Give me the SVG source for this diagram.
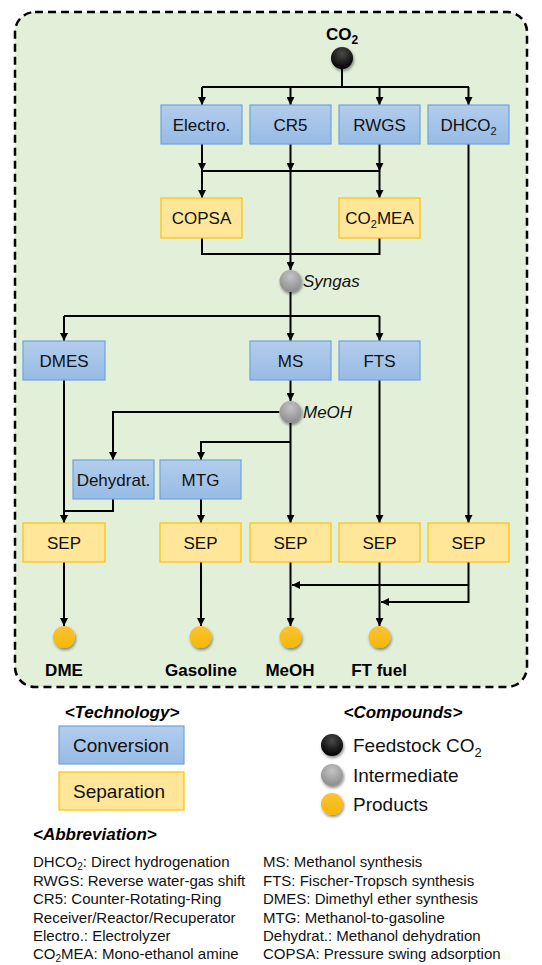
<svg xmlns="http://www.w3.org/2000/svg" width="542" height="965" viewBox="0 0 542 965">
  <style>
    .conv { fill: url(#gBlue); stroke: #6fa3dc; stroke-width: 1.2; }
    .sep { fill: #ffe699; stroke: #ffc000; stroke-width: 1.2; }
    .lbl { font-family: "Liberation Sans", Arial, sans-serif; font-size: 17px; fill: #111; text-anchor: middle; }
    .prod { font-family: "Liberation Sans", Arial, sans-serif; font-size: 17px; font-weight: bold; fill: #000; text-anchor: middle; }
    .ital { font-family: "Liberation Sans", Arial, sans-serif; font-size: 17px; font-style: italic; fill: #111; }
    .head { font-family: "Liberation Sans", Arial, sans-serif; font-size: 17px; font-style: italic; font-weight: bold; fill: #000; }
    .abbr { font-family: "Liberation Sans", Arial, sans-serif; font-size: 15px; fill: #111; }
    .leg { font-family: "Liberation Sans", Arial, sans-serif; font-size: 19px; fill: #111; }
    .wire { fill: none; stroke: #000; stroke-width: 2; }
    .arr { fill: none; stroke: #000; stroke-width: 2; marker-end: url(#ah); }
  </style>
  <defs>
    <linearGradient id="gBlue" x1="0" y1="0" x2="0" y2="1">
      <stop offset="0" stop-color="#b3cdec"/>
      <stop offset="1" stop-color="#97bbe5"/>
    </linearGradient>
    <radialGradient id="gBlack" cx="0.5" cy="0.3" r="0.7">
      <stop offset="0" stop-color="#4a4a4a"/>
      <stop offset="1" stop-color="#000"/>
    </radialGradient>
    <radialGradient id="gGrey" cx="0.5" cy="0.3" r="0.7">
      <stop offset="0" stop-color="#c4c4c4"/>
      <stop offset="1" stop-color="#8c8c8c"/>
    </radialGradient>
    <linearGradient id="gYellow" x1="0" y1="0" x2="0" y2="1">
      <stop offset="0" stop-color="#fbc23c"/>
      <stop offset="1" stop-color="#f5b800"/>
    </linearGradient>
    <filter id="shadow" x="-50%" y="-50%" width="200%" height="200%">
      <feDropShadow dx="1" dy="2" stdDeviation="1.6" flood-color="#000" flood-opacity="0.45"/>
    </filter>
    <marker id="ah" viewBox="0 0 10 10" refX="10" refY="5" markerWidth="4.5" markerHeight="4" orient="auto" markerUnits="strokeWidth">
      <path d="M0,0 L10,5 L0,10 z" fill="#000"/>
    </marker>
  </defs>

  <!-- process boundary -->
  <rect x="15" y="12" width="512" height="675" rx="20" ry="20" fill="#e2efd9" stroke="#000" stroke-width="2.5" stroke-dasharray="8,5"/>

  <!-- connectors -->
  <g id="connectors">
    <path class="wire" d="M342,69 V87 M202,87 H469"/>
    <path class="arr" d="M202,87 V105"/>
    <path class="arr" d="M290.5,87 V105"/>
    <path class="arr" d="M379.5,87 V105"/>
    <path class="arr" d="M468.5,87 V105"/>
    <path class="arr" d="M202,144 V171"/>
    <path class="arr" d="M379.5,144 V171"/>
    <path class="arr" d="M290.5,144 V171"/>
    <path class="wire" d="M202,171 H379.5"/>
    <path class="arr" d="M202,171 V198"/>
    <path class="arr" d="M379.5,171 V198"/>
    <path class="arr" d="M290.5,171 V270"/>
    <path class="wire" d="M202,238 V254 H379.5 V238"/>
    <path class="arr" d="M290.5,292 V341"/>
    <path class="wire" d="M64,316 H379.5"/>
    <path class="arr" d="M64,316 V341"/>
    <path class="arr" d="M379.5,316 V341"/>
    <path class="arr" d="M290.5,380 V401"/>
    <path class="arr" d="M279.5,412 H113 V460"/>
    <path class="arr" d="M290.5,423 V523"/>
    <path class="arr" d="M290.5,442 H201 V460"/>
    <path class="arr" d="M64,380 V523"/>
    <path class="wire" d="M113,499 V511 H64"/>
    <path class="arr" d="M201,499 V523"/>
    <path class="arr" d="M379.5,380 V523"/>
    <path class="arr" d="M468.5,144 V523"/>
    <path class="arr" d="M64,562 V626"/>
    <path class="arr" d="M201,562 V626"/>
    <path class="arr" d="M290.5,562 V626"/>
    <path class="arr" d="M379.5,562 V626"/>
    <path class="arr" d="M468.5,562 V602 H381"/>
    <path class="arr" d="M468.5,585 H292"/>
  </g>

  <!-- feedstock -->
  <g id="co2">
    <text class="prod" x="342" y="40" font-size="19">CO<tspan font-size="12" dy="4">2</tspan></text>
    <circle cx="342" cy="58" r="11" fill="url(#gBlack)" filter="url(#shadow)"/>
  </g>

  <!-- conversion technologies, first stage -->
  <g id="electro"><rect class="conv" x="161" y="105" width="81" height="39"/><text class="lbl" x="201.5" y="130.5">Electro.</text></g>
  <g id="cr5"><rect class="conv" x="250" y="105" width="81" height="39"/><text class="lbl" x="290.5" y="130.5">CR5</text></g>
  <g id="rwgs"><rect class="conv" x="339" y="105" width="81" height="39"/><text class="lbl" x="379.5" y="130.5">RWGS</text></g>
  <g id="dhco2"><rect class="conv" x="428" y="105" width="81" height="39"/><text class="lbl" x="468.5" y="130.5">DHCO<tspan font-size="11" dy="4">2</tspan></text></g>

  <!-- separation of syngas -->
  <g id="copsa"><rect class="sep" x="161" y="198" width="81" height="40"/><text class="lbl" x="201.5" y="224">COPSA</text></g>
  <g id="co2mea"><rect class="sep" x="339" y="198" width="81" height="40"/><text class="lbl" x="379.5" y="224">CO<tspan font-size="11" dy="4">2</tspan><tspan dy="-4">MEA</tspan></text></g>

  <!-- syngas intermediate -->
  <g id="syngas">
    <circle cx="290.5" cy="281" r="11" fill="url(#gGrey)" filter="url(#shadow)"/>
    <text class="ital" x="303" y="287">Syngas</text>
  </g>

  <!-- second stage -->
  <g id="dmes"><rect class="conv" x="23" y="341" width="82" height="39"/><text class="lbl" x="64" y="367">DMES</text></g>
  <g id="ms"><rect class="conv" x="250" y="341" width="81" height="39"/><text class="lbl" x="290.5" y="367">MS</text></g>
  <g id="fts"><rect class="conv" x="339" y="341" width="81" height="39"/><text class="lbl" x="379.5" y="367">FTS</text></g>

  <!-- methanol intermediate -->
  <g id="meoh-int">
    <circle cx="290.5" cy="412" r="11" fill="url(#gGrey)" filter="url(#shadow)"/>
    <text class="ital" x="303" y="418">MeOH</text>
  </g>

  <g id="dehydrat"><rect class="conv" x="73" y="460" width="81" height="39"/><text class="lbl" x="113.5" y="486">Dehydrat.</text></g>
  <g id="mtg"><rect class="conv" x="160" y="460" width="81" height="39"/><text class="lbl" x="200.5" y="486">MTG</text></g>

  <!-- product separation -->
  <g id="sep1"><rect class="sep" x="23" y="523" width="82" height="39"/><text class="lbl" x="64" y="549">SEP</text></g>
  <g id="sep2"><rect class="sep" x="160" y="523" width="81" height="39"/><text class="lbl" x="200.5" y="549">SEP</text></g>
  <g id="sep3"><rect class="sep" x="250" y="523" width="81" height="39"/><text class="lbl" x="290.5" y="549">SEP</text></g>
  <g id="sep4"><rect class="sep" x="339" y="523" width="81" height="39"/><text class="lbl" x="379.5" y="549">SEP</text></g>
  <g id="sep5"><rect class="sep" x="428" y="523" width="81" height="39"/><text class="lbl" x="468.5" y="549">SEP</text></g>

  <!-- products -->
  <g id="dme"><circle cx="64" cy="637" r="11" fill="url(#gYellow)" filter="url(#shadow)"/><text class="prod" x="64" y="676">DME</text></g>
  <g id="gasoline"><circle cx="200.5" cy="637" r="11" fill="url(#gYellow)" filter="url(#shadow)"/><text class="prod" x="201" y="676">Gasoline</text></g>
  <g id="meoh"><circle cx="290.5" cy="637" r="11" fill="url(#gYellow)" filter="url(#shadow)"/><text class="prod" x="290" y="676">MeOH</text></g>
  <g id="ftfuel"><circle cx="379.5" cy="637" r="11" fill="url(#gYellow)" filter="url(#shadow)"/><text class="prod" x="379" y="676">FT fuel</text></g>

  <!-- legend: technology -->
  <g id="legend-technology">
    <text class="head" x="122" y="718" text-anchor="middle">&lt;Technology&gt;</text>
    <rect class="conv" x="59" y="726" width="125" height="38"/>
    <text class="leg" x="121" y="752" text-anchor="middle">Conversion</text>
    <rect class="sep" x="59" y="772" width="125" height="38"/>
    <text class="leg" x="119" y="798" text-anchor="middle">Separation</text>
  </g>

  <!-- legend: compounds -->
  <g id="legend-compounds">
    <text class="head" x="403" y="718" text-anchor="middle">&lt;Compounds&gt;</text>
    <circle cx="332" cy="745" r="11" fill="url(#gBlack)" filter="url(#shadow)"/>
    <text class="leg" x="353" y="752">Feedstock CO<tspan font-size="13" dy="5">2</tspan></text>
    <circle cx="332" cy="775" r="11" fill="url(#gGrey)" filter="url(#shadow)"/>
    <text class="leg" x="353" y="782">Intermediate</text>
    <circle cx="332" cy="804" r="11" fill="url(#gYellow)" filter="url(#shadow)"/>
    <text class="leg" x="353" y="811">Products</text>
  </g>

  <!-- legend: abbreviations -->
  <g id="legend-abbreviation">
    <text class="head" x="33" y="840">&lt;Abbreviation&gt;</text>
    <text class="abbr" x="33" y="867">DHCO<tspan font-size="10" dy="2.5">2</tspan><tspan dy="-2.5">: Direct hydrogenation</tspan></text>
    <text class="abbr" x="33" y="886">RWGS: Reverse water-gas shift</text>
    <text class="abbr" x="33" y="904">CR5: Counter-Rotating-Ring</text>
    <text class="abbr" x="33" y="923">Receiver/Reactor/Recuperator</text>
    <text class="abbr" x="33" y="941">Electro.: Electrolyzer</text>
    <text class="abbr" x="33" y="959">CO<tspan font-size="10" dy="2.5">2</tspan><tspan dy="-2.5">MEA: Mono-ethanol amine</tspan></text>
    <text class="abbr" x="263" y="867">MS: Methanol synthesis</text>
    <text class="abbr" x="263" y="886">FTS: Fischer-Tropsch synthesis</text>
    <text class="abbr" x="263" y="904">DMES: Dimethyl ether synthesis</text>
    <text class="abbr" x="263" y="923">MTG: Methanol-to-gasoline</text>
    <text class="abbr" x="263" y="941">Dehydrat.: Methanol dehydration</text>
    <text class="abbr" x="263" y="959">COPSA: Pressure swing adsorption</text>
  </g>
</svg>
